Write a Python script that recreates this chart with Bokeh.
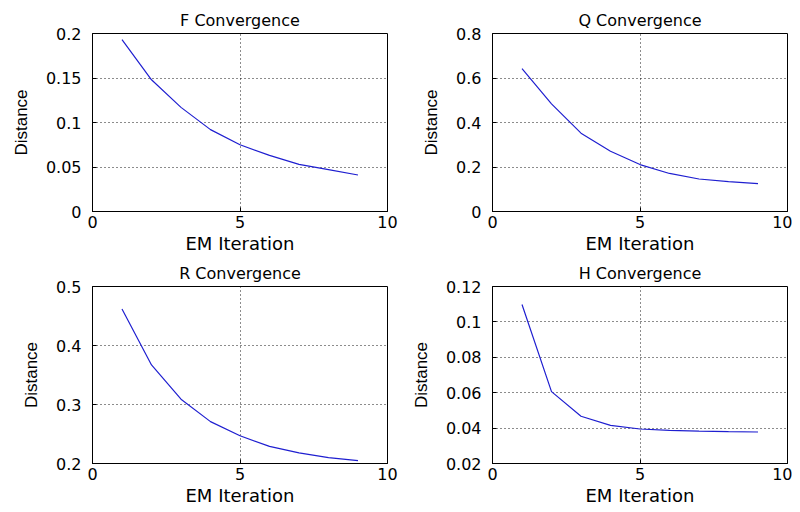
from bokeh.plotting import figure
from bokeh.layouts import column, row
from bokeh.models import Range1d, FixedTicker
from bokeh.embed import file_html
from bokeh.resources import INLINE

# ---- data ----
iters = [1, 2, 3, 4, 5, 6, 7, 8, 9]
f_dist = [0.193, 0.148, 0.117, 0.092, 0.075, 0.063, 0.053, 0.047, 0.041]
q_dist = [0.642, 0.484, 0.352, 0.271, 0.211, 0.171, 0.146, 0.134, 0.125]
r_dist = [0.462, 0.367, 0.309, 0.271, 0.247, 0.229, 0.218, 0.210, 0.205]
h_dist = [0.1098, 0.0606, 0.0467, 0.0415, 0.0395, 0.0387, 0.0383, 0.0380, 0.0378]

x_ticks = [0, 5, 10]
x_labels = ["0", "5", "10"]
f_ticks = [0, 0.05, 0.1, 0.15, 0.2]
f_labels = ["0", "0.05", "0.1", "0.15", "0.2"]
q_ticks = [0, 0.2, 0.4, 0.6, 0.8]
q_labels = ["0", "0.2", "0.4", "0.6", "0.8"]
r_ticks = [0.2, 0.3, 0.4, 0.5]
r_labels = ["0.2", "0.3", "0.4", "0.5"]
h_ticks = [0.02, 0.04, 0.06, 0.08, 0.1, 0.12]
h_labels = ["0.02", "0.04", "0.06", "0.08", "0.1", "0.12"]

titles = ["F Convergence", "Q Convergence", "R Convergence", "H Convergence"]
x_title = "EM Iteration"
y_title = "Distance"


def make_fig(title, ys, yticks, ylabels, left, right, top, bottom, fh):
    p = figure(frame_width=295, frame_height=fh,
               x_range=Range1d(x_ticks[0], x_ticks[-1]),
               y_range=Range1d(yticks[0], yticks[-1]),
               output_backend="svg", toolbar_location=None,
               min_border_left=left, min_border_right=right,
               min_border_top=top, min_border_bottom=bottom,
               background_fill_color="white", border_fill_color="white")
    p.title.text = title
    p.title.align = "center"
    p.title.vertical_align = "bottom"
    p.title.text_font = "DejaVu Sans"
    p.title.text_font_size = "16px"
    p.title.text_font_style = "normal"
    p.title.text_color = "black"
    p.title.standoff = 8
    p.outline_line_color = "black"
    p.outline_line_alpha = 1
    p.outline_line_width = 1

    p.line(iters, ys, line_color="#1f1fd0", line_width=1.2)

    p.xaxis.ticker = FixedTicker(ticks=x_ticks)
    p.xaxis.major_label_overrides = {t: l for t, l in zip(x_ticks, x_labels)}
    p.yaxis.ticker = FixedTicker(ticks=yticks)
    p.yaxis.major_label_overrides = {t: l for t, l in zip(yticks, ylabels)}
    p.xaxis.axis_label = x_title
    p.yaxis.axis_label = y_title
    for ax in (p.xaxis, p.yaxis):
        ax.major_tick_in = 4
        ax.major_tick_out = 0
        ax.minor_tick_in = 0
        ax.minor_tick_out = 0
        ax.axis_line_color = "black"
        ax.major_tick_line_color = "black"
        ax.major_label_text_font = "DejaVu Sans"
        ax.major_label_text_font_size = "16px"
        ax.major_label_text_color = "black"
        ax.axis_label_text_font_style = "normal"
        ax.axis_label_text_color = "black"
    p.xaxis.major_label_standoff = 4
    p.yaxis.major_label_standoff = 11
    p.xaxis.axis_label_text_font = "DejaVu Sans"
    p.xaxis.axis_label_text_font_size = "18px"
    p.xaxis.axis_label_standoff = 2
    p.yaxis.axis_label_text_font = "Liberation Sans"
    p.yaxis.axis_label_text_font_size = "17px"
    p.yaxis.axis_label_standoff = 12

    p.xgrid.ticker = FixedTicker(ticks=x_ticks)
    p.ygrid.ticker = FixedTicker(ticks=yticks)
    for g in (p.xgrid, p.ygrid):
        g.grid_line_color = "black"
        g.grid_line_dash = "1 3"
        g.grid_line_width = 1
        g.grid_line_alpha = 0.9
    return p


p1 = make_fig(titles[0], f_dist, f_ticks, f_labels, 92, 13, 33, 44, 178)
p2 = make_fig(titles[1], q_dist, q_ticks, q_labels, 92, 5, 33, 44, 178)
p3 = make_fig(titles[2], r_dist, r_ticks, r_labels, 92, 13, 30, 46, 177)
p4 = make_fig(titles[3], h_dist, h_ticks, h_labels, 92, 5, 30, 46, 177)

layout = column(row(p1, p2, spacing=0), row(p3, p4, spacing=0), spacing=0)
open("out.html", "w").write(file_html(layout, INLINE))
